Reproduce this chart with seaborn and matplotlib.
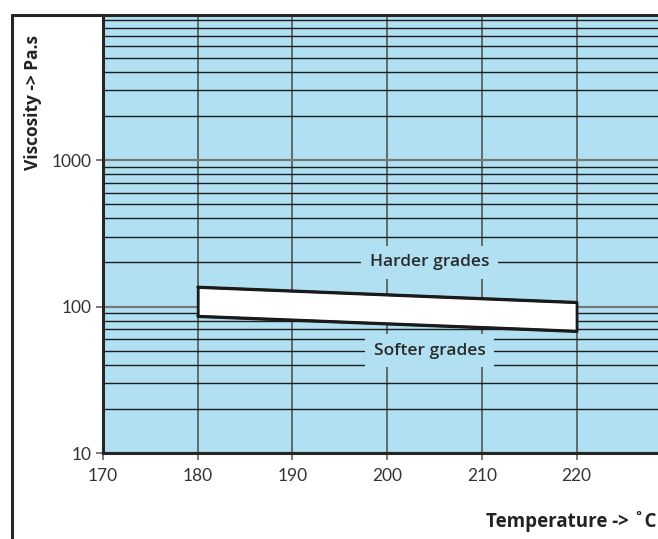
import numpy as np
import pandas as pd
import matplotlib
matplotlib.use("Agg")
import matplotlib.pyplot as plt
import matplotlib.ticker as mticker
from matplotlib.lines import Line2D
import seaborn as sns

# band of typical viscosity vs temperature
temp = [180, 220]
visc_hard = [136, 107]
visc_soft = [86, 68]

label_names = ["Harder grades", "Softer grades"]
label_x = [204.5, 204.5]
label_y = [200, 50]

x_ticks = [170, 180, 190, 200, 210, 220]
y_ticks = [10, 100, 1000]

sns.set_style("white")
plt.rcParams['font.family'] = ['Open Sans', 'DejaVu Sans']

fig = plt.figure(figsize=(6.58, 5.39), dpi=100)
W, H = 658, 539
ax = fig.add_axes([103 / W, (H - 453) / H, (W - 103) / W, (453 - 15) / H])
ax.set_facecolor('#b0e0f1')

ax.set_yscale('log')
ax.set_xlim(170, 228.6)
ax.set_ylim(10, 9800)

# grid
ax.yaxis.set_minor_locator(mticker.LogLocator(base=10, subs=np.arange(2, 10)))
ax.grid(which='minor', axis='y', color='#1e1e1e', lw=1.0, zorder=1)
ax.grid(which='major', axis='y', color='#777777', lw=1.6, zorder=1)
ax.grid(which='major', axis='x', color='#4a4a4a', lw=1.1, zorder=1)
ax.set_axisbelow(True)

ax.set_xticks(x_ticks)
ax.set_xticklabels([str(v) for v in x_ticks])
ax.set_yticks(y_ticks)
ax.set_yticklabels([str(v) for v in y_ticks])
ax.yaxis.set_minor_formatter(mticker.NullFormatter())
ax.tick_params(axis='both', which='major', direction='out', length=5, width=1.2,
               color='#666666', labelsize=12.5, labelcolor='#333333', pad=3,
               bottom=True, left=True)
ax.tick_params(axis='y', which='minor', length=0)
for lab in ax.get_xticklabels() + ax.get_yticklabels():
    lab.set_family(['Lato', 'DejaVu Sans'])
    lab.set_fontweight('normal')
ax.tick_params(axis='x', pad=6)

for side in ['left', 'bottom', 'top']:
    ax.spines[side].set_color('#262626')
    ax.spines[side].set_linewidth(2.2)
ax.spines['right'].set_visible(False)

# band
df = pd.DataFrame({'temp': temp, 'hard': visc_hard, 'soft': visc_soft})
ax.fill_between(df['temp'], df['soft'], df['hard'], facecolor='white',
                edgecolor='#1a1a1a', lw=2.0, zorder=3)
sns.lineplot(data=df, x='temp', y='hard', color='#1a1a1a', lw=2.0, ax=ax, zorder=4)
sns.lineplot(data=df, x='temp', y='soft', color='#1a1a1a', lw=2.0, ax=ax, zorder=4)

for name, lx, ly in zip(label_names, label_x, label_y):
    ax.text(lx, ly, name, ha='center', va='center', fontsize=12.5, fontweight='semibold',
            color='#2a2a2a', zorder=5,
            bbox=dict(facecolor='#b0e0f1', edgecolor='none', boxstyle='square,pad=0.5'))

ax.set_xlabel('')
ax.set_ylabel('')

fig.text(33 / W, 1 - 103 / H, 'Viscosity -> Pa.s', rotation=90, ha='center', va='center',
         fontsize=12.5, fontweight='bold', color='#222222')
fig.text(657 / W, 1 - 522 / H, 'Temperature -> ˚C', ha='right', va='center',
         fontsize=13.5, fontweight='bold', color='#222222')

# outer frame
fig.add_artist(Line2D([12 / W, 12 / W], [0, 1 - 15 / H], color='#262626', lw=2.2,
                      transform=fig.transFigure))
fig.add_artist(Line2D([12 / W, 103 / W], [1 - 15 / H, 1 - 15 / H], color='#262626', lw=2.2,
                      transform=fig.transFigure))

fig.savefig('out.png', dpi=100)
